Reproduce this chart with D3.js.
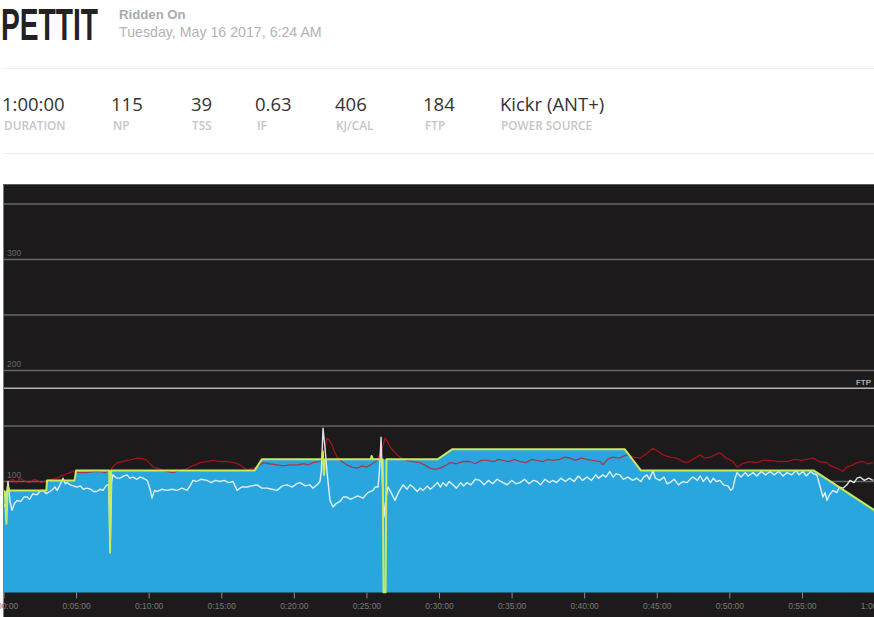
<!DOCTYPE html>
<html><head><meta charset="utf-8">
<script src="https://cdn.jsdelivr.net/npm/d3@7/dist/d3.min.js"></script>
<style>
html,body{margin:0;padding:0;background:#fff;overflow:hidden}
svg{display:block}
</style></head><body>
<svg id="c" width="874" height="617"></svg>
<script>
// ---------- DATA ----------
const riderName = "PETTIT";
const riddenLabel = "Ridden On";
const riddenDate = "Tuesday, May 16 2017, 6:24 AM";
const statValues = ["1:00:00", "115", "39", "0.63", "406", "184", "Kickr (ANT+)"];
const statLabels = ["DURATION", "NP", "TSS", "IF", "KJ/CAL", "FTP", "POWER SOURCE"];
const ftp = 184;
const gridValues = [50, 100, 150, 200, 250, 300, 350];
const gridLabelValues = [100, 200, 300];
const tickMinutes = [0, 5, 10, 15, 20, 25, 30, 35, 40, 45, 50, 55, 60];

// [minute, watts]
const target = [[0,92],[3,92],[3,101],[5,101],[5,110],[17.3,110],[17.8,120],[29.9,120],[30.9,129],[42.8,129],[43.9,110],[55.8,110],[60,74]];
const power = [[0,92],[0.1,90],[0.2,62],[0.3,96],[0.4,92],[2.95,92],[3.0,101],[4.9,101],[5.0,110],[7.28,110],[7.34,36],[7.42,110],[17.3,110],[17.8,120],[21.92,120],[22.0,127],[22.07,106],[22.15,120],[25.3,120],[25.36,123],[25.45,120],[26.12,120],[26.18,0],[26.32,0],[26.38,120],[29.9,120],[30.9,129],[42.8,129],[43.9,110],[55.8,110],[60,74]];
// [minute, rpm]
const cadence = [[0,77],[0.15,80],[0.31,100],[0.45,82],[0.59,74],[0.75,80],[0.93,83],[1.2,82],[1.4,86],[1.62,86],[1.8,84],[2.03,89],[2.3,88],[2.5,91],[2.72,92],[2.95,89],[3.20,91],[3.4,93],[3.55,95],[3.7,92],[3.89,97],[4.10,103],[4.25,98],[4.37,99],[4.6,97],[4.8,96],[5.06,95],[5.3,96],[5.5,93],[5.75,94],[6.0,93],[6.2,91],[6.44,91],[6.65,93],[6.85,92],[7.0,95],[7.13,97],[7.25,97],[7.34,36],[7.45,100],[7.54,106],[7.8,103],[8.02,103],[8.3,105],[8.51,106],[8.7,103],[8.92,104],[9.2,102],[9.4,104],[9.61,103],[9.9,101],[10.1,93],[10.23,85],[10.4,92],[10.57,91],[10.9,93],[11.26,92],[11.6,93],[11.95,92],[12.3,94],[12.64,92],[12.85,96],[13.05,101],[13.3,100],[13.6,102],[14.02,101],[14.3,99],[14.6,101],[14.91,100],[15.2,101],[15.5,99],[15.81,100],[16.09,92],[16.4,95],[16.77,95],[17.1,96],[17.46,97],[17.8,94],[18.15,94],[18.5,93],[18.84,92],[19.2,96],[19.53,97],[19.9,95],[20.2,98],[20.42,99],[20.8,96],[21.1,97],[21.32,94],[21.6,97],[21.80,100],[21.9,110],[22.01,148],[22.15,130],[22.29,108],[22.49,83],[22.70,77],[22.9,80],[23.18,82],[23.4,86],[23.66,86],[23.9,84],[24.08,85],[24.4,87],[24.77,85],[25.1,90],[25.46,92],[25.6,95],[25.80,95],[25.9,110],[26.01,140],[26.1,100],[26.21,68],[26.35,85],[26.49,95],[26.7,90],[26.97,83],[27.2,90],[27.52,97],[27.8,93],[28.0,97],[28.21,95],[28.5,91],[28.7,94],[28.90,92],[29.2,96],[29.4,93],[29.59,95],[29.9,99],[30.1,95],[30.28,99],[30.5,96],[30.7,100],[30.96,97],[31.2,94],[31.5,99],[31.7,96],[31.93,99],[32.2,97],[32.5,102],[32.82,101],[33.1,97],[33.4,101],[33.7,98],[34.0,102],[34.41,99],[34.7,97],[35.0,101],[35.3,98],[35.58,99],[35.9,102],[36.2,98],[36.5,101],[36.75,100],[37.0,97],[37.3,102],[37.6,99],[37.85,101],[38.1,99],[38.4,103],[38.7,100],[39.02,103],[39.3,100],[39.6,105],[39.9,101],[40.19,104],[40.5,101],[40.8,106],[41.0,103],[41.29,106],[41.5,104],[41.77,109],[42.0,104],[42.2,107],[42.46,106],[42.7,102],[43.0,104],[43.36,101],[43.6,103],[43.9,100],[44.1,104],[44.32,106],[44.5,102],[44.74,110],[44.9,103],[45.22,101],[45.5,104],[45.7,98],[45.91,99],[46.2,102],[46.5,97],[46.8,100],[47.08,99],[47.3,102],[47.49,104],[47.8,101],[48.0,105],[48.2,100],[48.46,104],[48.7,99],[48.9,103],[49.1,100],[49.35,101],[49.6,97],[49.9,96],[50.1,92],[50.25,94],[50.4,103],[50.53,108],[50.8,104],[51.1,108],[51.3,105],[51.63,108],[51.9,105],[52.2,109],[52.5,106],[52.80,109],[53.1,106],[53.4,109],[53.7,105],[53.97,108],[54.3,106],[54.6,110],[54.8,106],[55.07,109],[55.3,105],[55.6,109],[55.8,107],[56.03,106],[56.2,98],[56.45,86],[56.6,90],[56.72,83],[56.9,88],[57.14,92],[57.4,90],[57.6,95],[57.83,94],[58.1,97],[58.31,101],[58.6,99],[58.8,103],[59.00,104],[59.3,101],[59.6,103],[59.90,101]];
// [minute, bpm]
const heartRate = [[0.31,100],[0.6,102],[0.9,99],[1.14,103],[1.5,100],[1.83,99],[2.1,102],[2.31,101],[2.6,99],[3.00,101],[3.3,102],[3.69,103],[4.0,105],[4.37,107],[4.79,109],[5.2,108],[5.75,108],[6.2,109],[6.65,109],[7.0,108],[7.34,110],[7.6,114],[7.82,117],[8.2,118],[8.51,119],[8.9,120],[9.20,121],[9.5,121],[9.89,119],[10.30,113],[10.6,112],[10.99,110],[11.3,109],[11.68,108],[12.16,110],[12.5,111],[12.85,113],[13.2,115],[13.54,117],[14.0,118],[14.43,119],[14.9,118],[15.40,118],[15.9,117],[16.29,115],[16.6,112],[16.84,110],[17.1,112],[17.46,113],[17.87,117],[18.3,116],[18.84,115],[19.3,114],[19.74,115],[20.22,115],[20.7,116],[21.0,115],[21.32,117],[21.7,118],[21.94,119],[22.1,128],[22.29,139],[22.45,137],[22.63,133],[22.8,127],[22.97,122],[23.3,118],[23.66,115],[24.0,113],[24.35,112],[24.7,114],[25.04,113],[25.4,116],[25.73,119],[26.0,126],[26.28,139],[26.45,136],[26.63,131],[26.9,127],[27.11,124],[27.4,121],[27.80,119],[28.2,118],[28.69,117],[29.0,115],[29.38,112],[29.7,111],[30.07,112],[30.4,114],[30.76,117],[31.2,116],[31.65,118],[32.13,118],[32.5,116],[32.9,119],[33.31,119],[33.8,118],[34.1,120],[34.41,119],[34.8,118],[35.2,120],[35.58,118],[36.0,117],[36.4,120],[36.75,119],[37.2,118],[37.5,120],[37.85,119],[38.3,120],[38.7,122],[39.02,121],[39.4,119],[39.8,121],[40.19,120],[40.6,119],[41.09,118],[41.29,115],[41.6,120],[41.98,122],[42.4,121],[42.95,124],[43.4,122],[43.84,121],[44.3,125],[44.74,130],[45.1,127],[45.43,124],[45.9,122],[46.39,121],[46.8,118],[47.08,117],[47.5,120],[47.98,124],[48.3,121],[48.67,122],[49.0,124],[49.35,126],[49.8,121],[50.25,118],[50.53,113],[50.9,116],[51.42,118],[51.9,117],[52.3,119],[52.80,119],[53.3,118],[53.97,118],[54.5,120],[55.0,119],[55.76,121],[56.2,118],[56.72,117],[57.0,114],[57.41,112],[57.83,109],[58.1,113],[58.51,115],[58.8,117],[59.20,118],[59.5,116],[59.90,117]];

// ---------- DRAW ----------
const svg = d3.select("#c");
const W = 874, H = 617;

// header
svg.append("text").attr("x", 1).attr("y", 39.5)
  .attr("font-family", "'Liberation Sans Narrow','Liberation Sans',sans-serif")
  .attr("font-weight", "bold").attr("font-size", 45).attr("fill", "#222")
  .attr("textLength", 97).attr("lengthAdjust", "spacingAndGlyphs")
  .text(riderName);
svg.append("text").attr("x", 119).attr("y", 18.5)
  .attr("font-family", "'Liberation Sans',Arial,sans-serif").attr("font-weight", "bold")
  .attr("font-size", 13.2).attr("fill", "#ababab").text(riddenLabel);
svg.append("text").attr("x", 119).attr("y", 36.5)
  .attr("font-family", "'Liberation Sans',Arial,sans-serif")
  .attr("font-size", 14.2).attr("fill", "#b3b3b3").text(riddenDate);

svg.append("line").attr("x1", 3).attr("x2", W).attr("y1", 68.5).attr("y2", 68.5).attr("stroke", "#ececec");
svg.append("line").attr("x1", 3).attr("x2", W).attr("y1", 153.5).attr("y2", 153.5).attr("stroke", "#ececec");

const valueX = [2, 111, 191, 255, 335, 423, 500];
const labelX = [4, 113, 192, 257, 336, 425, 501];
const stat = svg.append("g");
stat.selectAll("text.v").data(statValues).join("text").attr("class", "v")
  .attr("x", (d, i) => valueX[i]).attr("y", 110.5)
  .attr("font-family", "'Open Sans',sans-serif").attr("font-size", 18.5).attr("fill", "#333")
  .text(d => d);
stat.selectAll("text.l").data(statLabels).join("text").attr("class", "l")
  .attr("x", (d, i) => labelX[i]).attr("y", 129.5)
  .attr("font-family", "'Open Sans',sans-serif").attr("font-weight", 600)
  .attr("font-size", 11.8).attr("fill", "#c6c6c6")
  .text(d => d);

// chart panel
const x = d3.scaleLinear().domain([0, 60]).range([3.5, 874.5]);
const y = d3.scaleLinear().domain([0, 350]).range([592.5, 204]);

svg.append("rect").attr("x", 3).attr("y", 184).attr("width", W - 3).attr("height", H - 184).attr("fill", "#1c1a1b");
svg.append("line").attr("x1", 3.5).attr("x2", 3.5).attr("y1", 184).attr("y2", H).attr("stroke", "#7d7d7d");
svg.append("line").attr("x1", 3).attr("x2", W).attr("y1", 184.5).attr("y2", 184.5).attr("stroke", "#5e5e5e");

svg.append("defs").append("clipPath").attr("id", "plot")
  .append("rect").attr("x", 4).attr("y", 185).attr("width", W - 4).attr("height", 592.5 - 185 + 1);

const plot = svg.append("g").attr("clip-path", "url(#plot)");

plot.selectAll("line.grid").data(gridValues).join("line").attr("class", "grid")
  .attr("x1", 4).attr("x2", W).attr("y1", d => y(d)).attr("y2", d => y(d))
  .attr("stroke", "#666").attr("stroke-width", 1.5);

plot.selectAll("text.gl").data(gridLabelValues).join("text").attr("class", "gl")
  .attr("x", 7).attr("y", d => y(d) - 3.5)
  .attr("font-family", "'Liberation Sans',Arial,sans-serif").attr("font-size", 8.5).attr("fill", "#6a6a6a")
  .text(d => d);

plot.append("line").attr("x1", 4).attr("x2", W).attr("y1", y(ftp)).attr("y2", y(ftp))
  .attr("stroke", "#b5b5b5").attr("stroke-width", 1.5);
plot.append("text").attr("x", 871).attr("y", y(ftp) - 3).attr("text-anchor", "end")
  .attr("font-family", "'Liberation Sans',Arial,sans-serif").attr("font-size", 8).attr("fill", "#e0e0e0")
  .text("FTP");

const area = d3.area().x(d => x(d[0])).y0(y(0)).y1(d => y(d[1]));
plot.append("path").datum(target).attr("d", area).attr("fill", "#29a6de");

const line = d3.line().x(d => x(d[0])).y(d => y(d[1]));
plot.append("path").datum(heartRate).attr("d", line).attr("fill", "none")
  .attr("stroke", "#d4101c").attr("stroke-opacity", 0.72).attr("stroke-width", 1.3).attr("stroke-linejoin", "round");
plot.append("path").datum(cadence).attr("d", line).attr("fill", "none")
  .attr("stroke", "#f4f8fa").attr("stroke-opacity", 0.9).attr("stroke-width", 1.4).attr("stroke-linejoin", "round");
plot.append("path").datum(power).attr("d", line).attr("fill", "none")
  .attr("stroke", "#c9ea5c").attr("stroke-width", 2).attr("stroke-linejoin", "round");

// x axis
const fmt = m => m === 60 ? "1:00:00" : "0:" + String(m).padStart(2, "0") + ":00";
const ax = svg.append("g").attr("transform", `translate(0,${y(0)})`)
  .call(d3.axisBottom(x).tickValues(tickMinutes).tickSize(6).tickPadding(4).tickFormat(fmt));
ax.select(".domain").remove();
ax.selectAll(".tick line").attr("stroke", "#8c8c8c");
ax.selectAll(".tick text").attr("fill", "#7a7a7a").attr("font-size", 8.5)
  .attr("font-family", "'Liberation Sans',Arial,sans-serif");
</script>
</body></html>
